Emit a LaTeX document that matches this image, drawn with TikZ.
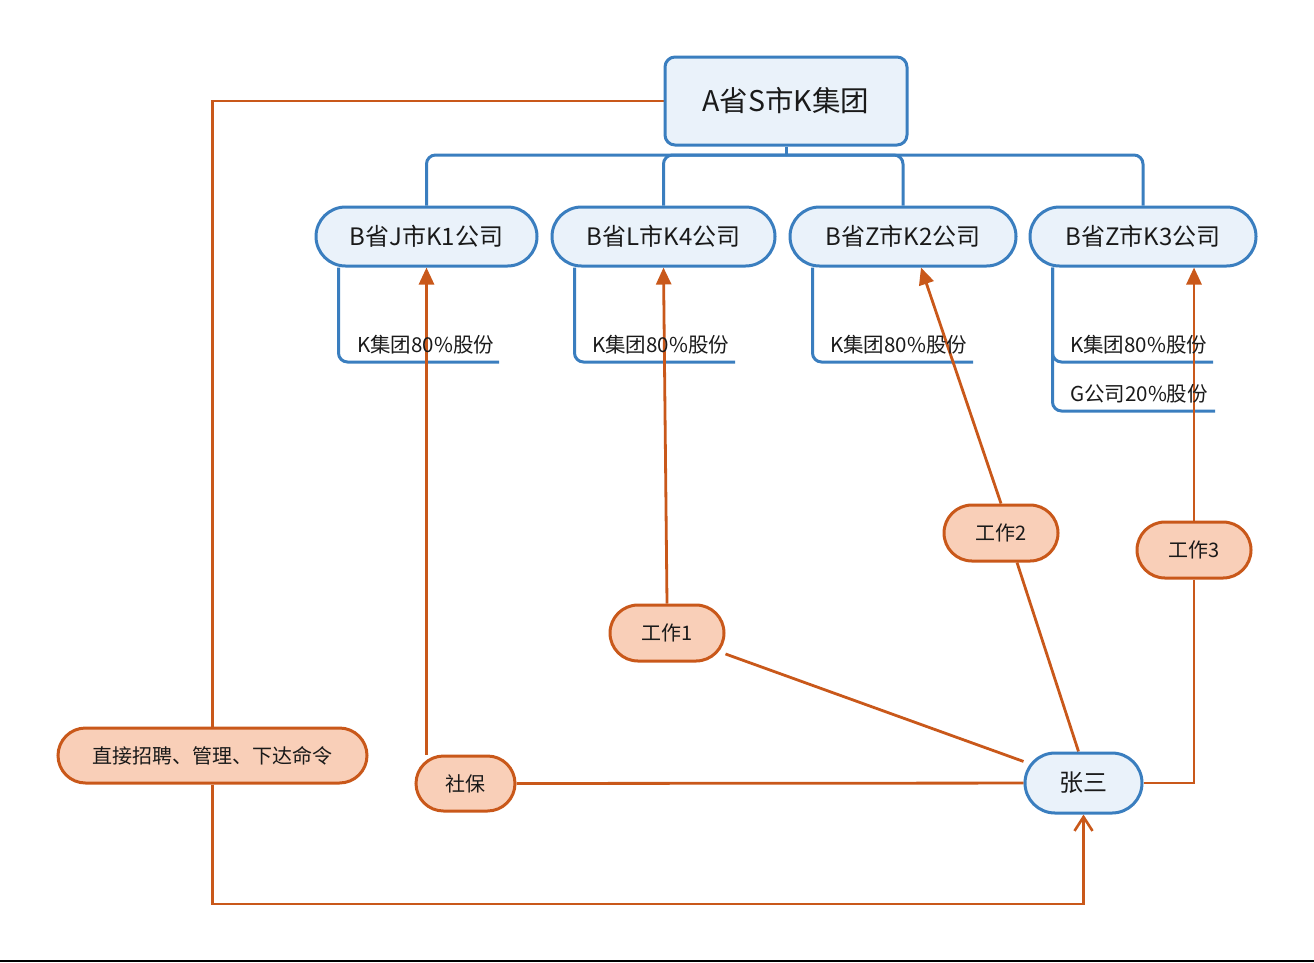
\documentclass[tikz,border=0pt]{standalone}
\usepackage{fontspec}
\setmainfont{Noto Sans CJK SC}
\usetikzlibrary{arrows.meta,backgrounds}
\definecolor{bline}{HTML}{3A7EBF}
\definecolor{bfill}{HTML}{EAF2FA}
\definecolor{oline}{HTML}{C9581A}
\definecolor{ofill}{HTML}{F9CFB8}
\definecolor{txt}{HTML}{1A1A1A}
\begin{document}
\begin{tikzpicture}[x=1pt,y=-1pt,
  bluebox/.style={draw=bline, fill=bfill, line width=3pt, text=txt, inner sep=0pt},
  orbox/.style={draw=oline, fill=ofill, line width=3pt, text=txt, inner sep=0pt,
    minimum height=56pt, rounded corners=28pt, font=\fontsize{20}{24}\selectfont},
  tree/.style={draw=bline, line width=3pt, rounded corners=9pt},
  con/.style={draw=oline, line width=2.8pt},
  arr/.style={con, -{Triangle[length=17pt,width=15pt]}},
  barb/.style={con, -{Straight Barb[length=14pt,width=18pt,line width=2.6pt]}},
  lbl/.style={text=txt, inner sep=0pt, font=\fontsize{20.5}{24}\selectfont},
  kbox/.style={bluebox, minimum height=59pt, rounded corners=29.5pt, font=\fontsize{24}{28}\selectfont},
]
\useasboundingbox (0,0) rectangle (1314,962);

% blue nodes
\node[bluebox, minimum width=242pt, minimum height=88pt, rounded corners=10pt,
      font=\fontsize{28.5}{32}\selectfont] (root) at (786,101) {A省S市K集团};
\node[kbox, minimum width=221pt] (K1) at (426.5,236.5) {B省J市K1公司};
\node[kbox, minimum width=223pt] (K4) at (663.5,236.5) {B省L市K4公司};
\node[kbox, minimum width=226pt] (K2) at (903,236.5) {B省Z市K2公司};
\node[kbox, minimum width=226pt] (K3) at (1143,236.5) {B省Z市K3公司};
\node[bluebox, minimum width=117pt, minimum height=60pt, rounded corners=30pt,
      font=\fontsize{24}{28}\selectfont] (zs) at (1083.5,783) {张三};

% share labels
\node[lbl, anchor=west] (s1) at (357,345) {K集团80\%股份};
\node[lbl, anchor=west] (s2) at (592,345) {K集团80\%股份};
\node[lbl, anchor=west] (s3) at (830,345) {K集团80\%股份};
\node[lbl, anchor=west] (s4) at (1070,345) {K集团80\%股份};
\node[lbl, anchor=west] (s5) at (1070,394) {G公司20\%股份};
\coordinate (e1) at (499,362);
\coordinate (e2) at (735,362);
\coordinate (e3) at (973,362);
\coordinate (e4) at (1213,362);
\coordinate (e5) at (1215,411);

% orange nodes
\node[orbox, minimum width=114pt] (w1) at (667,633) {工作1};
\node[orbox, minimum width=114pt] (w2) at (1001,533) {工作2};
\node[orbox, minimum width=114pt] (w3) at (1194,550) {工作3};
\node[orbox, minimum width=99pt, minimum height=55pt, rounded corners=27.5pt] (sb) at (465.5,783.5) {社保};
\node[orbox, minimum width=309pt, minimum height=55pt, rounded corners=27.5pt] (zj) at (212.5,755.5) {直接招聘、管理、下达命令};
\coordinate (b1) at (212.5,904);
\coordinate (tj) at (786,155);

\begin{pgfonlayer}{background}
  % tree
  \draw[tree] (root.south) -- (tj);
  \draw[tree] (tj) -| (K1.north);
  \draw[tree] (tj) -| (K4.north);
  \draw[tree] (tj) -| (K2.north);
  \draw[tree] (tj) -| (K3.north);
  % share lines
  \draw[tree] ([xshift=24pt]K1.south west) |- (e1);
  \draw[tree] ([xshift=24pt]K4.south west) |- (e2);
  \draw[tree] ([xshift=24pt]K2.south west) |- (e3);
  \draw[tree] ([xshift=24pt]K3.south west) |- (e4);
  \draw[tree] ([xshift=24pt]K3.south west) |- (e5);
  % orange connectors
  \draw[arr] (w1.north) -- (K4.south);
  \draw[con] (w1) -- (zs);
  \draw[arr] (w2.north) -- ([xshift=18pt]K2.south);
  \draw[con] ([xshift=16pt]w2.south) -- ([xshift=-5pt]zs.north);
  \draw[arr] (w3.north) -- (w3.north |- K3.south);
  \draw[con] (w3.south) |- (zs.east);
  \draw[arr] (sb.north -| K1.south) -- (K1.south);
  \draw[con] (sb) -- (zs);
  \draw[con] (root.west) -| (zj.north);
  \draw[barb] (zj.south) -- (b1) -| (zs.south);
\end{pgfonlayer}

\draw[black, line width=2pt] (0,961) -- (1314,961);
\end{tikzpicture}
\end{document}
